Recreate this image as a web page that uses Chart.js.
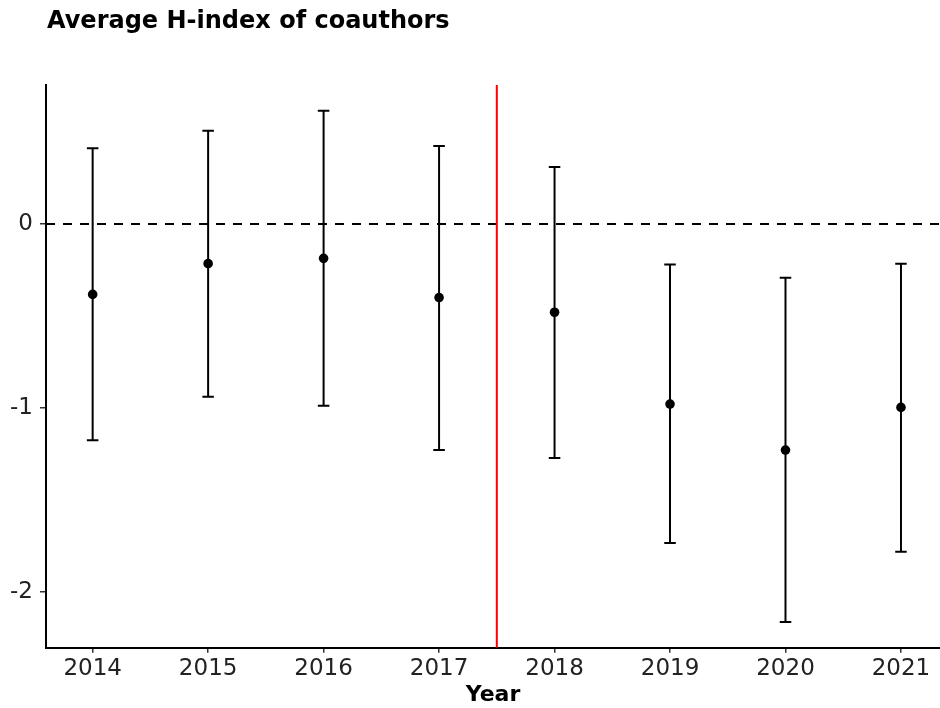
<!DOCTYPE html>
<html>
<head>
<meta charset="utf-8">
<script src="https://cdn.jsdelivr.net/npm/chart.js@4"></script>
<style>
  html, body { margin: 0; padding: 0; background: #fff; overflow: hidden; }
  #wrap { width: 940px; height: 708px; position: relative; }
</style>
</head>
<body>
<div id="wrap"><canvas id="c"></canvas></div>
<script>
// ---- data ----
const titleText = 'Average H-index of coauthors';
const xTitle = 'Year';
const years = [2014, 2015, 2016, 2017, 2018, 2019, 2020, 2021];
const estimates = [-0.383, -0.216, -0.187, -0.400, -0.480, -0.979, -1.229, -0.997];
const ciLow = [-1.176, -0.939, -0.988, -1.229, -1.272, -1.734, -2.163, -1.782];
const ciHigh = [0.411, 0.506, 0.615, 0.423, 0.309, -0.221, -0.292, -0.216];
const yTicks = [-2, -1, 0];
const treatmentLine = 2017.5;
const zeroLine = 0;
const xLimits = [2013.596, 2021.338];
const yLimits = [-2.303, 0.755];

const FONT = "'DejaVu Sans', sans-serif";

const refLines = {
  id: 'refLines',
  beforeDatasetsDraw(chart) {
    const { ctx, chartArea: a, scales: { x, y } } = chart;
    ctx.save();
    ctx.beginPath();
    ctx.rect(a.left, a.top, a.right - a.left, a.bottom - a.top);
    ctx.clip();
    // dashed zero line
    const y0 = y.getPixelForValue(zeroLine);
    ctx.strokeStyle = '#000';
    ctx.lineWidth = 2;
    ctx.setLineDash([9, 8]);
    ctx.beginPath();
    ctx.moveTo(a.left, y0);
    ctx.lineTo(a.right, y0);
    ctx.stroke();
    ctx.setLineDash([]);
    // red vertical line
    const xr = x.getPixelForValue(treatmentLine);
    ctx.strokeStyle = '#FF0000';
    ctx.lineWidth = 2;
    ctx.beginPath();
    ctx.moveTo(xr, a.top);
    ctx.lineTo(xr, a.bottom);
    ctx.stroke();
    // error bars
    ctx.strokeStyle = '#000';
    ctx.lineWidth = 2;
    const capHalf = 0.05;
    years.forEach((yr, i) => {
      const px = x.getPixelForValue(yr);
      const pl = x.getPixelForValue(yr - capHalf);
      const pr = x.getPixelForValue(yr + capHalf);
      const ph = y.getPixelForValue(ciHigh[i]);
      const plo = y.getPixelForValue(ciLow[i]);
      ctx.beginPath();
      ctx.moveTo(px, ph); ctx.lineTo(px, plo);
      ctx.moveTo(pl, ph); ctx.lineTo(pr, ph);
      ctx.moveTo(pl, plo); ctx.lineTo(pr, plo);
      ctx.stroke();
    });
    ctx.restore();
  }
};

const titlePlugin = {
  id: 'titlePlugin',
  afterDraw(chart) {
    const ctx = chart.ctx;
    ctx.save();
    ctx.fillStyle = '#000';
    ctx.font = "bold 24px " + FONT;
    ctx.textBaseline = 'alphabetic';
    ctx.textAlign = 'left';
    ctx.fillText(titleText, 47, 27.5);
    ctx.restore();
  }
};

new Chart(document.getElementById('c'), {
  type: 'scatter',
  data: {
    datasets: [{
      data: years.map((yr, i) => ({ x: yr, y: estimates[i] })),
      backgroundColor: '#000',
      borderColor: '#000',
      pointRadius: 4.8,
      pointHoverRadius: 4.8,
      borderWidth: 0
    }]
  },
  options: {
    responsive: true,
    maintainAspectRatio: false,
    animation: false,
    events: [],
    layout: { autoPadding: false, padding: { top: 85, left: 0, right: 0, bottom: 0 } },
    plugins: { legend: { display: false }, tooltip: { enabled: false }, title: { display: false } },
    scales: {
      x: {
        type: 'linear',
        min: xLimits[0],
        max: xLimits[1],
        afterFit(scale) { scale.height = 60.3; scale.paddingLeft = 0; scale.paddingRight = 0; },
        afterBuildTicks(scale) { scale.ticks = years.map(v => ({ value: v })); },
        ticks: {
          includeBounds: false,
          autoSkip: false,
          maxRotation: 0,
          padding: 3,
          color: '#222',
          font: { family: FONT, size: 23 },
          callback: (v) => String(v)
        },
        grid: { display: true, drawOnChartArea: false, drawTicks: true, tickLength: 5, color: '#333', lineWidth: 1.5 },
        border: { display: true, color: '#000', width: 2 },
        title: {
          display: true, text: xTitle, color: '#000',
          font: { family: FONT, size: 22, weight: 'bold' },
          padding: { top: 0, bottom: 0 }
        }
      },
      y: {
        type: 'linear',
        min: yLimits[0],
        max: yLimits[1],
        afterFit(scale) { scale.width = 46; scale.paddingTop = 0; scale.paddingBottom = 0; },
        afterBuildTicks(scale) { scale.ticks = yTicks.map(v => ({ value: v })); },
        ticks: {
          includeBounds: false,
          padding: 7,
          color: '#222',
          font: { family: FONT, size: 23 },
          callback: (v) => String(v)
        },
        grid: { display: true, drawOnChartArea: false, drawTicks: true, tickLength: 6, color: '#333', lineWidth: 1.5 },
        border: { display: true, color: '#000', width: 2 }
      }
    }
  },
  plugins: [refLines, titlePlugin]
});
</script>
</body>
</html>
